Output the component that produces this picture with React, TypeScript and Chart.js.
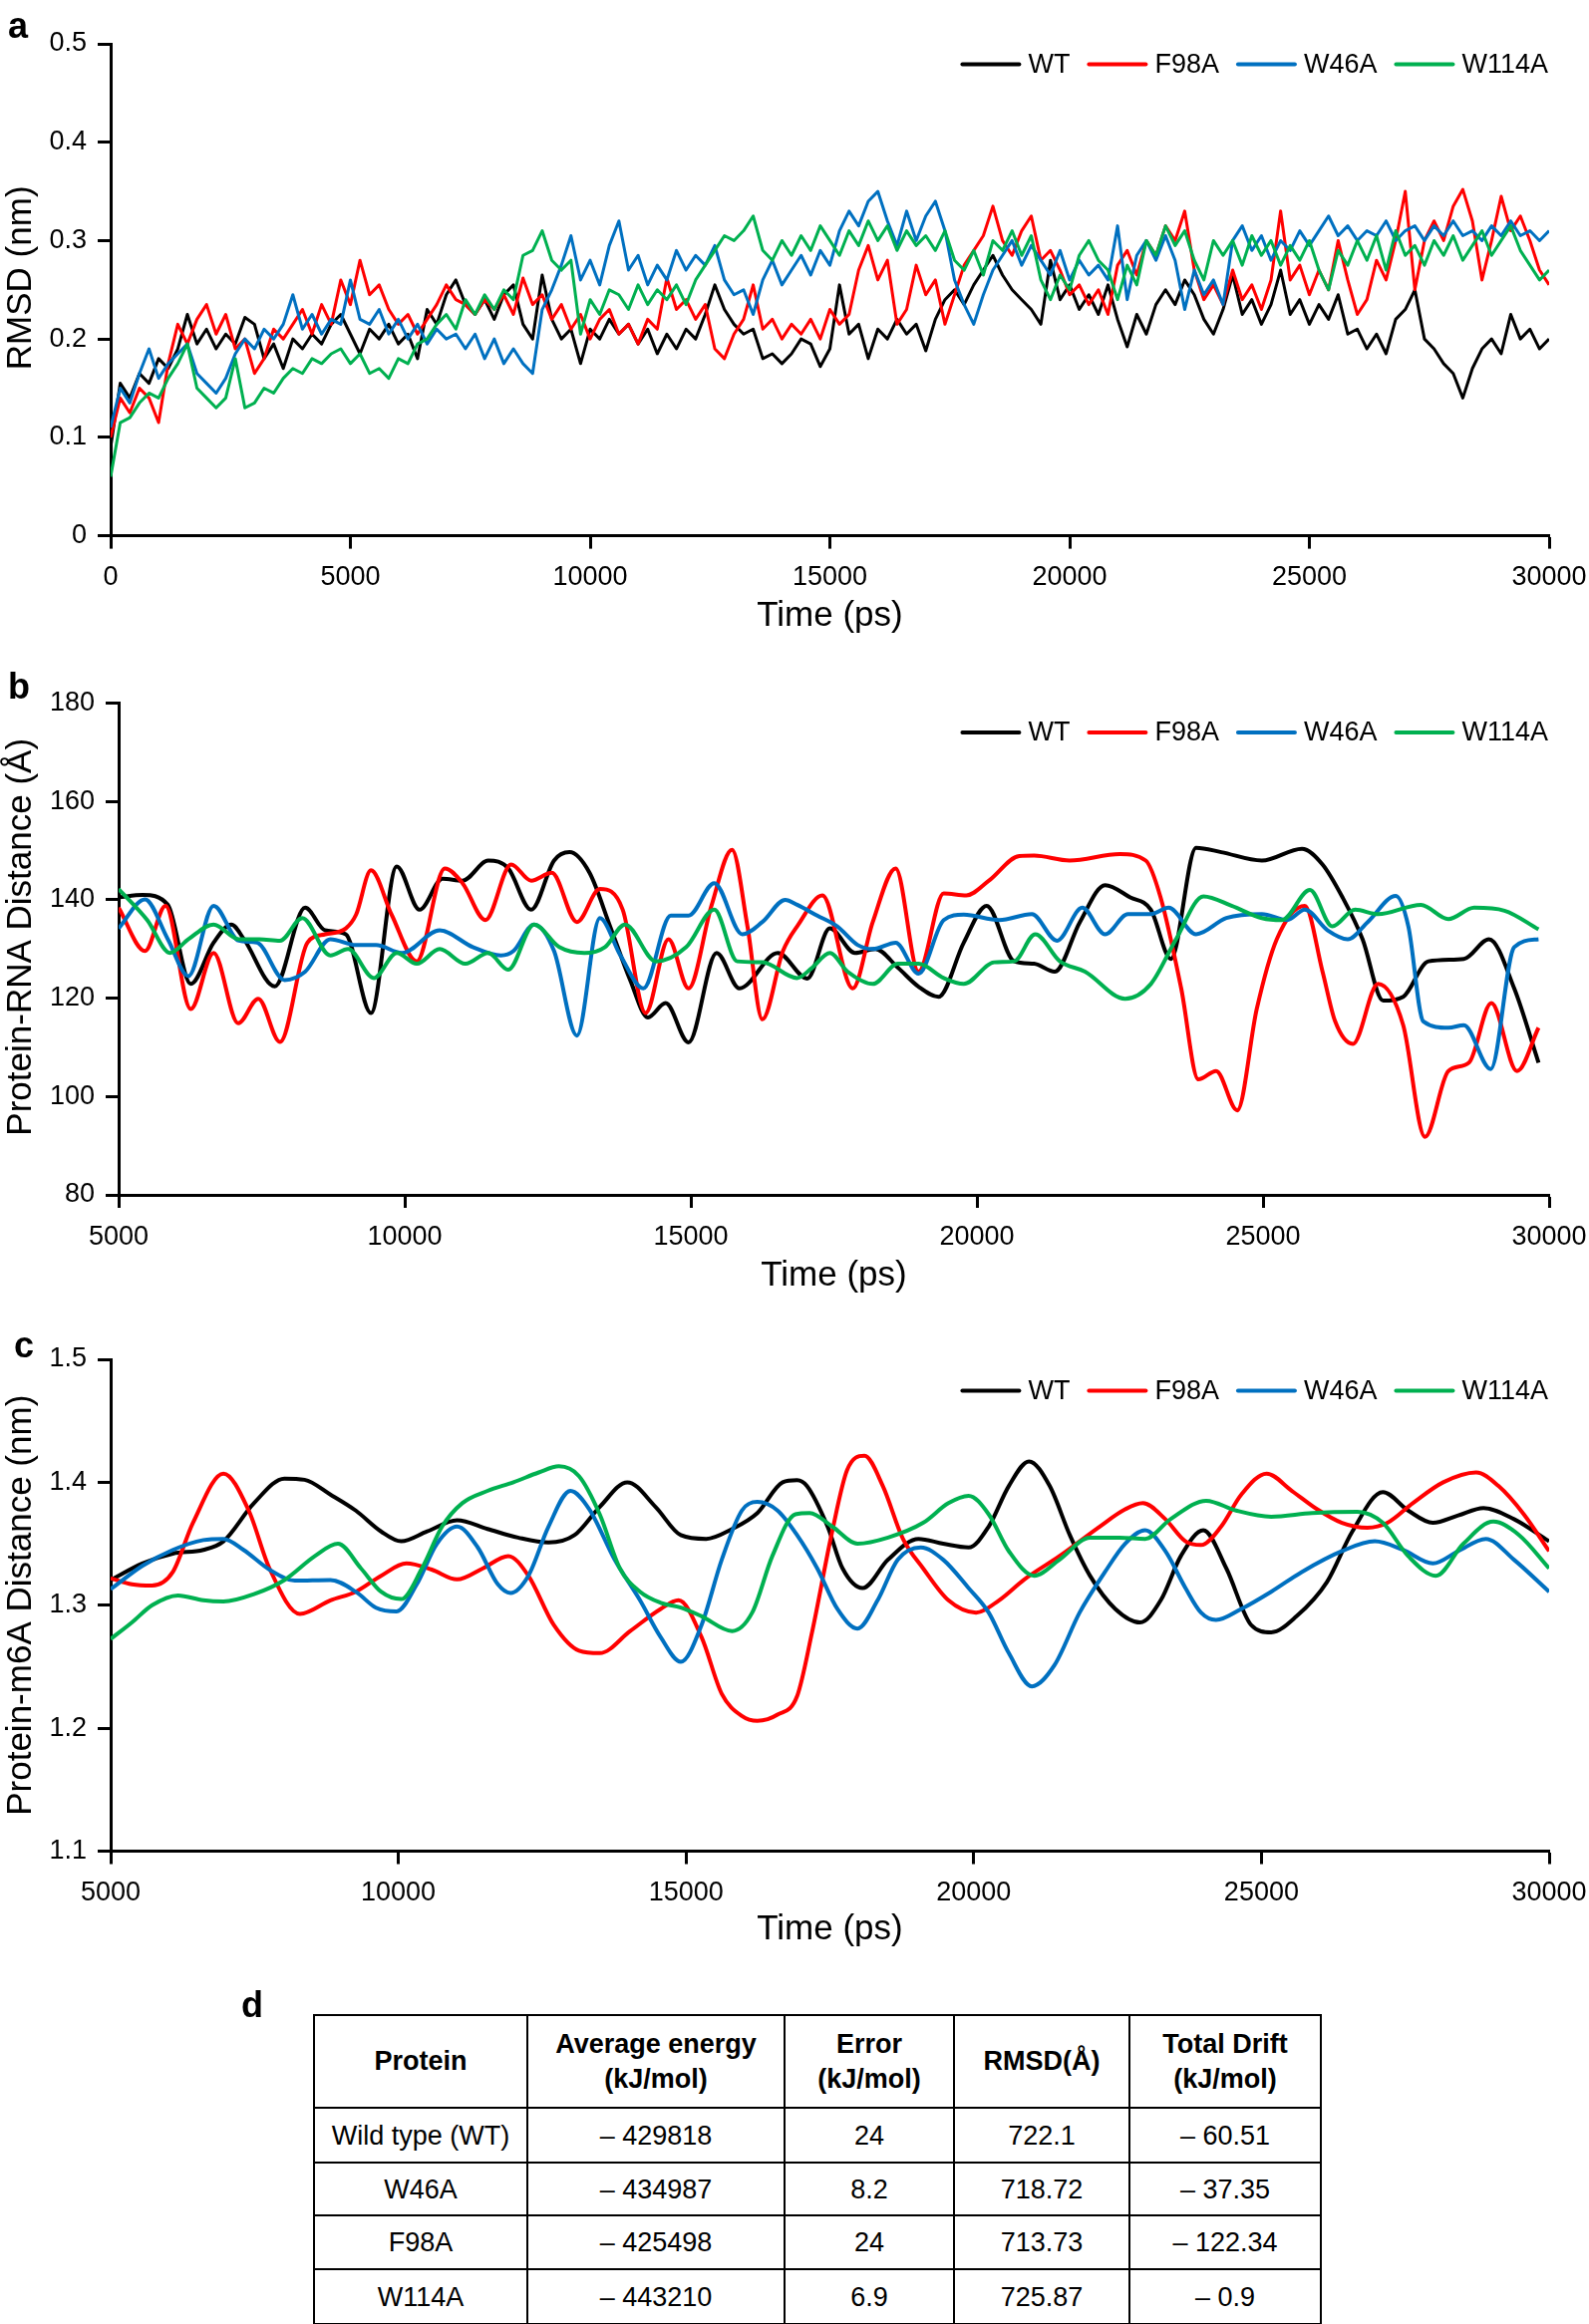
import React, { useEffect, useRef } from "react";
import { Chart, registerables } from "chart.js";

Chart.register(...registerables);

const FONT = '"Liberation Sans", Arial, Helvetica, sans-serif';

const seriesNames = ["WT", "F98A", "W46A", "W114A"];
const seriesColors = ["#000000", "#ff0000", "#0070c0", "#00b050"];

// ---------- panel a: RMSD (nm), sampled every 200 ps from 0 to 30000 ps ----------
const rmsdStepPs = 200;
const rmsdWT = [
  0.09, 0.155, 0.14, 0.165, 0.155, 0.18, 0.17, 0.19, 0.225, 0.195,
  0.21, 0.19, 0.205, 0.195, 0.222, 0.215, 0.18, 0.195, 0.17, 0.2,
  0.19, 0.205, 0.195, 0.215, 0.225, 0.205, 0.185, 0.21, 0.2, 0.215,
  0.195, 0.205, 0.18, 0.23, 0.215, 0.245, 0.26, 0.235, 0.225, 0.24,
  0.22, 0.245, 0.255, 0.215, 0.2, 0.265, 0.22, 0.2, 0.21, 0.175,
  0.21, 0.2, 0.22, 0.205, 0.215, 0.195, 0.21, 0.185, 0.205, 0.19,
  0.21, 0.2, 0.225, 0.255, 0.23, 0.215, 0.205, 0.21, 0.18, 0.185,
  0.175, 0.185, 0.2, 0.195, 0.172, 0.19, 0.255, 0.205, 0.215, 0.18,
  0.21, 0.2, 0.22, 0.205, 0.215, 0.188, 0.22, 0.24, 0.25, 0.235,
  0.255, 0.27, 0.285, 0.265, 0.25, 0.24, 0.23, 0.215, 0.28, 0.24,
  0.255, 0.23, 0.245, 0.225, 0.255, 0.22, 0.192, 0.225, 0.205, 0.235,
  0.25, 0.235, 0.26, 0.245, 0.22, 0.205, 0.23, 0.265, 0.225, 0.24,
  0.215, 0.235, 0.27, 0.225, 0.24, 0.215, 0.235, 0.22, 0.245, 0.205,
  0.21, 0.19, 0.205, 0.185, 0.22, 0.23, 0.25, 0.2, 0.19, 0.175,
  0.165, 0.14, 0.17, 0.19, 0.2, 0.185, 0.225, 0.2, 0.21, 0.19,
  0.2,
];
const rmsdF98A = [
  0.1, 0.14, 0.125, 0.15, 0.14, 0.115, 0.175, 0.215, 0.195, 0.22,
  0.235, 0.205, 0.225, 0.19, 0.2, 0.165, 0.18, 0.21, 0.2, 0.215,
  0.23, 0.205, 0.235, 0.215, 0.26, 0.235, 0.28, 0.245, 0.255, 0.23,
  0.215, 0.225, 0.205, 0.22, 0.235, 0.255, 0.24, 0.235, 0.225, 0.24,
  0.23, 0.245, 0.225, 0.262, 0.235, 0.245, 0.22, 0.235, 0.21, 0.225,
  0.2, 0.22, 0.23, 0.205, 0.215, 0.195, 0.22, 0.21, 0.262, 0.23,
  0.24, 0.22, 0.235, 0.19, 0.18, 0.205, 0.22, 0.255, 0.21, 0.22,
  0.2, 0.215, 0.205, 0.22, 0.2, 0.23, 0.215, 0.225, 0.27, 0.295,
  0.26, 0.28, 0.215, 0.23, 0.275, 0.245, 0.26, 0.215, 0.245, 0.275,
  0.29, 0.305, 0.335, 0.3, 0.285, 0.31, 0.325, 0.28, 0.29, 0.27,
  0.245, 0.255, 0.235, 0.25, 0.225, 0.275, 0.29, 0.265, 0.3, 0.285,
  0.315, 0.3, 0.33, 0.27, 0.24, 0.255, 0.235, 0.27, 0.24, 0.255,
  0.23, 0.26, 0.33, 0.26, 0.275, 0.245, 0.27, 0.25, 0.3, 0.26,
  0.225, 0.24, 0.28, 0.26, 0.3, 0.35, 0.25, 0.3, 0.32, 0.3,
  0.335, 0.352, 0.32, 0.26, 0.3, 0.345, 0.31, 0.325, 0.3, 0.27,
  0.255,
];
const rmsdW46A = [
  0.11, 0.15, 0.135, 0.165, 0.19, 0.16, 0.175, 0.185, 0.195, 0.165,
  0.155, 0.145, 0.16, 0.185, 0.2, 0.19, 0.21, 0.2, 0.215, 0.245,
  0.21, 0.225, 0.205, 0.22, 0.215, 0.26, 0.22, 0.215, 0.23, 0.205,
  0.22, 0.2, 0.215, 0.195, 0.21, 0.2, 0.205, 0.19, 0.205, 0.18,
  0.2, 0.175, 0.19, 0.175, 0.165, 0.23, 0.25, 0.275, 0.305, 0.26,
  0.28, 0.255, 0.295, 0.32, 0.27, 0.285, 0.255, 0.275, 0.26, 0.29,
  0.27, 0.285, 0.275, 0.295, 0.26, 0.245, 0.25, 0.225, 0.26, 0.28,
  0.255, 0.27, 0.285, 0.265, 0.29, 0.275, 0.31, 0.33, 0.315, 0.34,
  0.35, 0.32, 0.295, 0.33, 0.3, 0.325, 0.34, 0.31, 0.26, 0.235,
  0.215, 0.245, 0.27, 0.285, 0.3, 0.275, 0.295, 0.28, 0.265, 0.29,
  0.26, 0.28, 0.265, 0.275, 0.26, 0.315, 0.24, 0.285, 0.3, 0.28,
  0.305, 0.28, 0.23, 0.27, 0.245, 0.26, 0.235, 0.3, 0.315, 0.29,
  0.305, 0.28, 0.3, 0.29, 0.31, 0.295, 0.31, 0.325, 0.305, 0.315,
  0.3, 0.31, 0.305, 0.32, 0.3, 0.31, 0.315, 0.3, 0.315, 0.305,
  0.32, 0.305, 0.31, 0.3, 0.315, 0.305, 0.32, 0.305, 0.31, 0.3,
  0.31,
];
const rmsdW114A = [
  0.06, 0.115, 0.12, 0.135, 0.145, 0.14, 0.16, 0.175, 0.195, 0.15,
  0.14, 0.13, 0.14, 0.18, 0.13, 0.135, 0.15, 0.145, 0.16, 0.17,
  0.165, 0.18, 0.175, 0.185, 0.19, 0.175, 0.185, 0.165, 0.17, 0.16,
  0.18, 0.175, 0.195, 0.2, 0.215, 0.225, 0.21, 0.24, 0.225, 0.245,
  0.23, 0.25, 0.24, 0.285, 0.29, 0.31, 0.28, 0.27, 0.28, 0.205,
  0.24, 0.225, 0.25, 0.245, 0.23, 0.255, 0.235, 0.25, 0.24, 0.255,
  0.235, 0.26, 0.275, 0.29, 0.305, 0.3, 0.31, 0.325, 0.29, 0.28,
  0.3, 0.285, 0.305, 0.29, 0.315, 0.3, 0.285, 0.31, 0.295, 0.32,
  0.3, 0.315, 0.29, 0.31, 0.295, 0.305, 0.29, 0.31, 0.28, 0.27,
  0.29, 0.265, 0.3, 0.29, 0.31, 0.285, 0.305, 0.26, 0.24, 0.265,
  0.25, 0.285, 0.3, 0.28, 0.27, 0.24, 0.275, 0.255, 0.3, 0.285,
  0.315, 0.295, 0.31, 0.28, 0.26, 0.3, 0.285, 0.3, 0.275, 0.305,
  0.285, 0.3, 0.275, 0.295, 0.28, 0.3, 0.27, 0.25, 0.29, 0.275,
  0.3, 0.28, 0.305, 0.27, 0.31, 0.285, 0.295, 0.275, 0.3, 0.285,
  0.305, 0.28, 0.295, 0.31, 0.285, 0.3, 0.315, 0.29, 0.275, 0.26,
  0.27,
];

// ---------- panel b: Protein-RNA distance (Å), [time ps, value] ----------
const rnaWT = [
  [5000, 140.5], [5420, 141], [5860, 139], [6260, 122.9], [6660, 131.3], [6970, 135], [7190, 132],
  [7730, 122.4], [8260, 138.4], [8610, 133.8], [8970, 133], [9410, 117], [9860, 146.8], [10260, 138],
  [10660, 144.3], [11010, 143.9], [11460, 148], [11810, 146.4], [12210, 138], [12610, 148], [12880, 149.7],
  [13230, 145.5], [13590, 134.6], [13940, 123.7], [14250, 116.1], [14560, 119], [14960, 111], [15450, 129.2],
  [15850, 122], [16520, 129.2], [17035, 124], [17430, 134.2], [17870, 129.2], [18225, 130], [18620, 126.2],
  [18975, 122.4], [19330, 120.3], [19770, 131.3], [20170, 138.8], [20650, 127.5], [21000, 127], [21360, 125.4],
  [21800, 135.5], [22240, 143], [22680, 140.5], [23040, 138], [23390, 128], [23830, 150.6], [24270, 149.7],
  [24980, 148], [25680, 150.4], [26040, 147.2], [26390, 140.5], [26740, 132], [27100, 119.5], [27450, 120.3],
  [27890, 127.5], [28510, 128], [28950, 132], [29390, 122], [29815, 106.9],
];
const rnaF98A = [
  [5000, 138.4], [5460, 129.6], [5820, 138.8], [6260, 117.8], [6660, 129.2], [7090, 114.9], [7440, 119.9],
  [7820, 111.1], [8300, 131.3], [8610, 133], [8970, 134.2], [9150, 137], [9410, 146], [9770, 137],
  [10210, 127.5], [10700, 146.4], [11010, 143.4], [11410, 135.9], [11860, 147.2], [12210, 143.9], [12570, 145.5],
  [13010, 135.5], [13410, 142.2], [13810, 138], [14210, 117], [14610, 132], [14960, 122], [15360, 138.8],
  [15720, 150.2], [15990, 134.6], [16250, 115.7], [16610, 129.6], [16880, 135], [17300, 140.9], [17830, 122],
  [18180, 135.5], [18580, 146.4], [18980, 125.4], [19420, 141.3], [19815, 140.9], [20210, 143.9], [20740, 148.9],
  [21000, 149], [21620, 148], [22500, 149.3], [22950, 148], [23210, 140.5], [23570, 122], [23870, 103.5],
  [24180, 105.2], [24550, 97.2], [24890, 117.8], [25240, 132], [25730, 138.8], [26040, 125.4], [26260, 115.3],
  [26570, 110.7], [27010, 122.9], [27450, 114.5], [27830, 91.8], [28240, 105.2], [28600, 106.9], [28990, 119],
  [29440, 105.2], [29815, 114],
];
const rnaW46A = [
  [5000, 134.2], [5460, 140.1], [5860, 132], [6220, 124.5], [6660, 138.8], [7100, 131.7], [7420, 131.3],
  [7900, 123.7], [8260, 125.4], [8700, 132], [9150, 130.8], [9500, 130.8], [9950, 129.2], [10610, 133.8],
  [11190, 130.4], [11680, 128.7], [11900, 129.6], [12260, 135], [12610, 129.6], [13010, 112.4], [13410, 136.3],
  [13770, 128.7], [14170, 122], [14650, 136.8], [14960, 136.8], [15410, 143.4], [15900, 133], [16250, 135.5],
  [16650, 140], [16858, 139], [17210, 136.8], [17560, 134.6], [17920, 130.8], [18180, 130], [18580, 131.3],
  [18980, 125], [19420, 135.9], [19770, 137], [20390, 135.9], [20960, 137.1], [21400, 131.7], [21840, 138.4],
  [22240, 133], [22640, 137.1], [23040, 137.1], [23350, 138.4], [23830, 133], [24360, 136.3], [24980, 137.1],
  [25420, 135.9], [25730, 138], [26130, 133.8], [26480, 132], [26830, 135.5], [27320, 140.8], [27540, 134.6],
  [27800, 115.3], [28240, 114], [28510, 114.5], [28980, 105.6], [29390, 130.4], [29815, 132],
];
const rnaW114A = [
  [5000, 142.2], [5500, 135.9], [5900, 129.2], [6220, 132], [6660, 135], [7100, 132], [7460, 132],
  [7820, 131.7], [8210, 136.3], [8700, 128.7], [9010, 130], [9460, 124.1], [9860, 129.2], [10210, 127],
  [10610, 130], [11060, 127], [11460, 129.2], [11810, 125.8], [12260, 135], [12700, 130.4], [13140, 129.2],
  [13500, 130.4], [13850, 135], [14390, 127.5], [14920, 130.4], [15410, 138], [15810, 127.5], [16250, 127.3],
  [16858, 124.1], [17120, 126.2], [17430, 129.2], [17740, 125.4], [18180, 122.9], [18620, 127], [18980, 127],
  [19420, 124.1], [19770, 122.9], [20300, 127.3], [20650, 127.5], [21020, 133], [21450, 127.5], [21890, 125.4],
  [22590, 119.9], [23040, 122.9], [23480, 132], [23960, 140.7], [24450, 138.8], [24980, 136.3], [25330, 135.9],
  [25820, 142], [26210, 134.6], [26610, 138], [27010, 137.1], [27760, 139], [28240, 136.1], [28690, 138.4],
  [29220, 137.8], [29815, 134],
];

// ---------- panel c: Protein-m6A distance (nm), [time ps, value] ----------
const m6aWT = [
  [5000, 1.3205], [5550, 1.334], [6080, 1.342], [6610, 1.345], [6960, 1.352], [7490, 1.383], [8020, 1.403],
  [8370, 1.402], [8820, 1.39], [9260, 1.377], [9700, 1.36], [10050, 1.352], [10500, 1.36], [11020, 1.369],
  [11550, 1.362], [12080, 1.355], [12610, 1.351], [13060, 1.357], [13500, 1.38], [13980, 1.4], [14470, 1.38],
  [14910, 1.357], [15350, 1.354], [15800, 1.362], [16240, 1.375], [16680, 1.4], [16930, 1.4017], [17100, 1.397],
  [17460, 1.364], [17720, 1.33], [18070, 1.314], [18510, 1.337], [19040, 1.354], [19470, 1.35], [19910, 1.347],
  [20260, 1.364], [20610, 1.397], [20960, 1.417], [21320, 1.397], [21670, 1.357], [22020, 1.324], [22460, 1.297],
  [22890, 1.286], [23250, 1.304], [23600, 1.34], [23990, 1.361], [24390, 1.33], [24820, 1.284], [25170, 1.278],
  [25610, 1.291], [26140, 1.319], [26580, 1.36], [27110, 1.392], [27550, 1.377], [27980, 1.367], [28420, 1.373],
  [28860, 1.379], [29390, 1.37], [30000, 1.352],
];
const m6aF98A = [
  [5000, 1.322], [5370, 1.317], [5720, 1.316], [6080, 1.327], [6430, 1.367], [6960, 1.407], [7400, 1.377],
  [7760, 1.33], [8290, 1.293], [8820, 1.304], [9260, 1.311], [9700, 1.324], [10140, 1.334], [10580, 1.329],
  [11020, 1.321], [11470, 1.33], [11910, 1.34], [12260, 1.324], [12700, 1.284], [13140, 1.263], [13500, 1.261],
  [14030, 1.279], [14560, 1.297], [14870, 1.304], [15270, 1.274], [15620, 1.228], [15970, 1.21], [16240, 1.206],
  [16590, 1.211], [16930, 1.226], [17190, 1.278], [17540, 1.36], [17800, 1.41], [18100, 1.4215], [18420, 1.397],
  [18770, 1.354], [19120, 1.33], [19560, 1.304], [20040, 1.294], [20440, 1.304], [20880, 1.321], [21490, 1.34],
  [22190, 1.364], [22630, 1.378], [22940, 1.383], [23330, 1.37], [23680, 1.352], [23950, 1.349], [24300, 1.364],
  [24650, 1.39], [25090, 1.407], [25530, 1.393], [25970, 1.378], [26400, 1.367], [26840, 1.363], [27190, 1.367],
  [27630, 1.383], [28160, 1.4], [28730, 1.408], [29120, 1.397], [29560, 1.374], [30000, 1.344],
];
const m6aW46A = [
  [5000, 1.313], [5550, 1.332], [6080, 1.345], [6610, 1.353], [6960, 1.354], [7310, 1.345], [7760, 1.329],
  [8200, 1.32], [8820, 1.3205], [9260, 1.311], [9610, 1.298], [9970, 1.295], [10320, 1.317], [10670, 1.35],
  [11020, 1.364], [11380, 1.347], [11730, 1.317], [11950, 1.31], [12260, 1.324], [12610, 1.364], [12990, 1.393],
  [13320, 1.378], [13760, 1.337], [14200, 1.304], [14560, 1.274], [14910, 1.254], [15270, 1.284], [15620, 1.337],
  [15970, 1.377], [16240, 1.384], [16590, 1.377], [16930, 1.357], [17280, 1.33], [17630, 1.297], [17980, 1.281],
  [18330, 1.304], [18680, 1.337], [19080, 1.347], [19470, 1.337], [19910, 1.314], [20260, 1.294], [20610, 1.261],
  [21010, 1.234], [21400, 1.251], [21840, 1.294], [22280, 1.327], [22630, 1.35], [22980, 1.361], [23330, 1.344],
  [23680, 1.314], [23950, 1.294], [24210, 1.288], [24650, 1.297], [25170, 1.311], [25700, 1.327], [26400, 1.344],
  [26970, 1.352], [27460, 1.345], [27980, 1.334], [28420, 1.344], [28900, 1.354], [29390, 1.337], [30000, 1.311],
];
const m6aW114A = [
  [5000, 1.2725], [5370, 1.286], [5720, 1.3], [6170, 1.308], [6610, 1.304], [6960, 1.303], [7490, 1.309],
  [8020, 1.3205], [8550, 1.34], [8950, 1.35], [9350, 1.33], [9700, 1.311], [10050, 1.305], [10410, 1.33],
  [10760, 1.364], [11110, 1.383], [11550, 1.393], [12000, 1.4], [12440, 1.408], [12790, 1.413], [13140, 1.405],
  [13500, 1.374], [13850, 1.33], [14200, 1.311], [14560, 1.302], [14910, 1.298], [15270, 1.291], [15800, 1.279],
  [16150, 1.294], [16500, 1.34], [16900, 1.374], [17150, 1.375], [17540, 1.364], [17980, 1.35], [18510, 1.355],
  [19120, 1.367], [19560, 1.383], [19910, 1.389], [20260, 1.374], [20610, 1.344], [21050, 1.324], [21490, 1.337],
  [22020, 1.355], [22540, 1.355], [22980, 1.354], [23420, 1.37], [24040, 1.385], [24560, 1.377], [25170, 1.372],
  [25880, 1.375], [26670, 1.376], [27110, 1.367], [27550, 1.34], [28030, 1.324], [28510, 1.35], [29030, 1.368],
  [29480, 1.357], [30000, 1.33],
];

// ---------- panel d: table ----------
const tableHeader = ["Protein", "Average energy\n(kJ/mol)", "Error\n(kJ/mol)", "RMSD(Å)", "Total Drift\n(kJ/mol)"];
const tableRows = [
  ["Wild type (WT)", "– 429818", "24", "722.1", "– 60.51"],
  ["W46A", "– 434987", "8.2", "718.72", "– 37.35"],
  ["F98A", "– 425498", "24", "713.73", "– 122.34"],
  ["W114A", "– 443210", "6.9", "725.87", "– 0.9"],
];

// custom in-plot legend (line sample + label), right aligned to the plot area
const lineLegend = {
  id: "lineLegend",
  afterDraw(chart: any, _args: any, opts: any) {
    const { ctx, chartArea } = chart;
    const y = chartArea.top + opts.offsetY;
    const lineLen = 61;
    const gapText = 7;
    const gapItem = 17;
    ctx.save();
    ctx.font = `27px ${FONT}`;
    const ds = chart.data.datasets;
    let total = 0;
    ds.forEach((d: any, i: number) => {
      total += lineLen + gapText + ctx.measureText(d.label).width + (i < ds.length - 1 ? gapItem : 0);
    });
    let x = chartArea.right - 1 - total;
    ctx.textBaseline = "middle";
    ctx.textAlign = "left";
    ctx.lineCap = "round";
    ctx.lineWidth = 4;
    ds.forEach((d: any) => {
      ctx.strokeStyle = d.borderColor;
      ctx.beginPath();
      ctx.moveTo(x + 2, y);
      ctx.lineTo(x + lineLen - 2, y);
      ctx.stroke();
      x += lineLen + gapText;
      ctx.fillStyle = "#000";
      ctx.fillText(d.label, x, y + 1);
      x += ctx.measureText(d.label).width + gapItem;
    });
    ctx.restore();
  },
};

// vertical axis title drawn at a fixed x, centred on the plot with a small shift
const yAxisTitle = {
  id: "yAxisTitle",
  afterDraw(chart: any, _args: any, opts: any) {
    const { ctx, chartArea } = chart;
    const cy = (chartArea.top + chartArea.bottom) / 2 + opts.shift;
    ctx.save();
    ctx.translate(opts.x, cy);
    ctx.rotate(-Math.PI / 2);
    ctx.font = `35px ${FONT}`;
    ctx.fillStyle = "#000";
    ctx.textAlign = "center";
    ctx.textBaseline = "middle";
    ctx.fillText(opts.text, 0, 0);
    ctx.restore();
  },
};

type PanelSpec = {
  series: { x: number; y: number }[][];
  lineWidth: number;
  smooth: boolean;
  xMin: number;
  xMax: number;
  yMin: number;
  yMax: number;
  yStep: number;
  yFmt: (v: number) => string;
  yTitle: string;
  yTitleShift: number;
  leftW: number;
  padTop: number;
  xH: number;
  titlePadBottom: number;
  legendY: number;
};

function buildConfig(p: PanelSpec): any {
  const tickFont = { family: FONT, size: 27 };
  const titleFont = { family: FONT, size: 35 };
  return {
    type: "line",
    data: {
      datasets: p.series.map((pts, i) => ({
        label: seriesNames[i],
        data: pts,
        borderColor: seriesColors[i],
        backgroundColor: seriesColors[i],
        borderWidth: p.lineWidth,
        pointRadius: 0,
        pointHoverRadius: 0,
        fill: false,
        tension: p.smooth ? 0.4 : 0,
        cubicInterpolationMode: p.smooth ? "monotone" : "default",
        borderJoinStyle: "round",
        order: 3 - i,
      })),
    },
    options: {
      animation: false,
      responsive: false,
      devicePixelRatio: 1,
      events: [],
      layout: { padding: { left: 0, right: 40, top: p.padTop, bottom: 0 } },
      plugins: {
        legend: { display: false },
        tooltip: { enabled: false },
        lineLegend: { offsetY: p.legendY },
        yAxisTitle: { text: p.yTitle, x: 21, shift: p.yTitleShift },
      },
      scales: {
        x: {
          type: "linear",
          min: p.xMin,
          max: p.xMax,
          ticks: {
            stepSize: 5000,
            autoSkip: false,
            maxRotation: 0,
            padding: 13,
            color: "#000",
            font: tickFont,
            callback: (v: number) => String(v),
          },
          grid: { drawOnChartArea: false, drawTicks: true, tickLength: 13, tickWidth: 3, tickColor: "#000", color: "#000" },
          border: { display: true, color: "#000", width: 3 },
          title: {
            display: true,
            text: "Time (ps)",
            color: "#000",
            font: titleFont,
            padding: { top: 0, bottom: p.titlePadBottom },
          },
          afterFit: (s: any) => {
            s.height = p.xH;
            s.paddingLeft = 0;
            s.paddingRight = 0;
          },
        },
        y: {
          type: "linear",
          min: p.yMin,
          max: p.yMax,
          ticks: {
            stepSize: p.yStep,
            padding: 11,
            color: "#000",
            font: tickFont,
            callback: (v: number) => p.yFmt(v),
          },
          grid: { drawOnChartArea: false, drawTicks: true, tickLength: 13, tickWidth: 3, tickColor: "#000", color: "#000" },
          border: { display: true, color: "#000", width: 3 },
          title: { display: false },
          afterFit: (s: any) => {
            s.width = p.leftW;
            s.paddingTop = 0;
            s.paddingBottom = 0;
          },
        },
      },
    },
    plugins: [lineLegend, yAxisTitle],
  };
}

function ChartCanvas({ top, height, spec }: { top: number; height: number; spec: () => PanelSpec }) {
  const ref = useRef<HTMLCanvasElement | null>(null);
  useEffect(() => {
    if (!ref.current) return;
    const chart = new Chart(ref.current, buildConfig(spec()));
    return () => chart.destroy();
  }, []);
  return (
    <canvas
      ref={ref}
      width={1594}
      height={height}
      style={{ position: "absolute", left: 0, top, width: 1594, height, display: "block" }}
    />
  );
}

const toPts = (vals: number[]) => vals.map((v, i) => ({ x: i * rmsdStepPs, y: v }));
const pairPts = (arr: number[][]) => arr.map(([x, y]) => ({ x, y }));

const specA = (): PanelSpec => ({
  series: [toPts(rmsdWT), toPts(rmsdF98A), toPts(rmsdW46A), toPts(rmsdW114A)],
  lineWidth: 3,
  smooth: false,
  xMin: 0,
  xMax: 30000,
  yMin: 0,
  yMax: 0.5,
  yStep: 0.1,
  yFmt: (v) => (Math.abs(v) < 1e-9 ? "0" : v.toFixed(1)),
  yTitle: "RMSD (nm)",
  yTitleShift: -12,
  leftW: 111,
  padTop: 44,
  xH: 660 - 537.6,
  titlePadBottom: 21,
  legendY: 20.5,
});

const specB = (): PanelSpec => ({
  series: [pairPts(rnaWT), pairPts(rnaF98A), pairPts(rnaW46A), pairPts(rnaW114A)],
  lineWidth: 4,
  smooth: true,
  xMin: 5000,
  xMax: 30000,
  yMin: 80,
  yMax: 180,
  yStep: 20,
  yFmt: (v) => String(Math.round(v)),
  yTitle: "Protein-RNA Distance (Å)",
  yTitleShift: -12,
  leftW: 119,
  padTop: 45.6,
  xH: 650 - 539,
  titlePadBottom: 9,
  legendY: 29.4,
});

const specC = (): PanelSpec => ({
  series: [pairPts(m6aWT), pairPts(m6aF98A), pairPts(m6aW46A), pairPts(m6aW114A)],
  lineWidth: 4,
  smooth: true,
  xMin: 5000,
  xMax: 30000,
  yMin: 1.1,
  yMax: 1.5,
  yStep: 0.1,
  yFmt: (v) => v.toFixed(1),
  yTitle: "Protein-m6A Distance (nm)",
  yTitleShift: 0,
  leftW: 111,
  padTop: 54,
  xH: 690 - 547.5,
  titlePadBottom: 43,
  legendY: 31.5,
});

const panelLabel = (text: string, left: number, top: number) => (
  <div
    style={{
      position: "absolute",
      left,
      top,
      fontFamily: FONT,
      fontWeight: "bold",
      fontSize: 36,
      lineHeight: "36px",
      color: "#000",
    }}
  >
    {text}
  </div>
);

const colWidths = [214, 258, 170, 176, 192];
const rowHeights = [55, 53, 54, 55];

export default function App() {
  const cellBase: React.CSSProperties = {
    border: "2px solid #000",
    textAlign: "center",
    verticalAlign: "middle",
    padding: 0,
    fontFamily: FONT,
    fontSize: 27,
    color: "#000",
  };
  return (
    <div
      style={{
        position: "absolute",
        left: 0,
        top: 0,
        width: 1594,
        height: 2332,
        background: "#fff",
        overflow: "hidden",
      }}
    >
      <ChartCanvas top={0} height={660} spec={specA} />
      <ChartCanvas top={660} height={650} spec={specB} />
      <ChartCanvas top={1310} height={690} spec={specC} />
      {panelLabel("a", 8, 8)}
      {panelLabel("b", 8, 671)}
      {panelLabel("c", 14, 1332)}
      {panelLabel("d", 242, 1994)}
      <table
        style={{
          position: "absolute",
          left: 314,
          top: 2021,
          borderCollapse: "collapse",
          tableLayout: "fixed",
          width: 1012,
        }}
      >
        <colgroup>
          {colWidths.map((w, i) => (
            <col key={i} style={{ width: w }} />
          ))}
        </colgroup>
        <thead>
          <tr style={{ height: 93 }}>
            {tableHeader.map((h, i) => (
              <th key={i} style={{ ...cellBase, fontWeight: "bold", whiteSpace: "pre-line", lineHeight: "35px" }}>
                {h}
              </th>
            ))}
          </tr>
        </thead>
        <tbody>
          {tableRows.map((r, ri) => (
            <tr key={ri} style={{ height: rowHeights[ri] }}>
              {r.map((c, ci) => (
                <td key={ci} style={{ ...cellBase, fontWeight: "normal", lineHeight: "30px" }}>
                  {c}
                </td>
              ))}
            </tr>
          ))}
        </tbody>
      </table>
    </div>
  );
}
